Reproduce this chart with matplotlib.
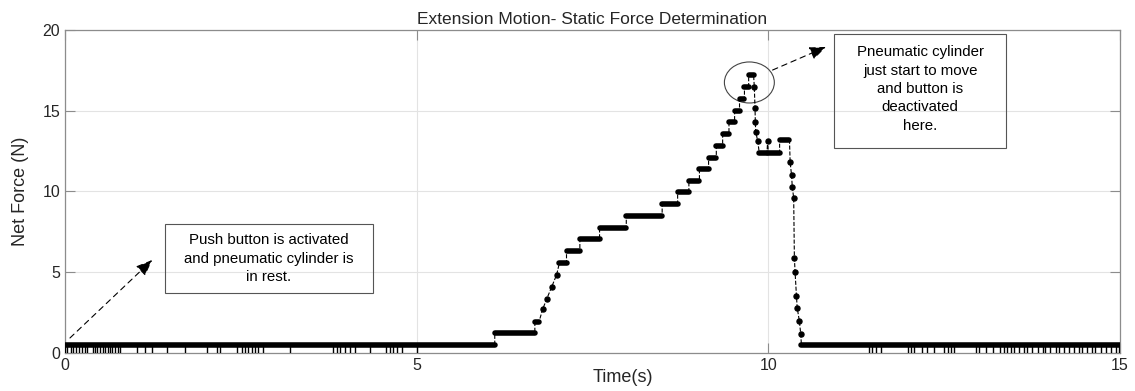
import numpy as np
import matplotlib
matplotlib.use("Agg")
import matplotlib.pyplot as plt
from matplotlib.patches import Ellipse, Rectangle

plt.rcParams['font.family'] = ['Liberation Sans', 'DejaVu Sans']

# plateaus of the force signal: start time, end time, level
plat_t0 = [0.00, 6.11, 6.68, 7.03, 7.13, 7.32, 7.60, 7.98, 8.49, 8.71, 8.87, 9.02,
           9.15, 9.26, 9.35, 9.44, 9.52, 9.59, 9.66, 9.72, 9.87, 10.00, 10.16, 10.47]
plat_t1 = [6.11, 6.68, 6.74, 7.13, 7.32, 7.60, 7.98, 8.49, 8.71, 8.87, 9.02, 9.15,
           9.26, 9.35, 9.44, 9.52, 9.59, 9.66, 9.72, 9.79, 9.98, 10.16, 10.30, 15.00]
plat_v = [0.5, 1.26, 1.94, 5.6, 6.3, 7.04, 7.76, 8.5, 9.2, 9.95, 10.67, 11.4,
          12.1, 12.8, 13.56, 14.3, 15.0, 15.7, 16.5, 17.2, 12.4, 12.4, 13.2, 0.5]

# single samples between plateaus
dot_t = [6.79, 6.85, 6.92, 6.99, 9.80, 9.81, 9.815, 9.82, 9.85, 9.99,
         10.31, 10.33, 10.34, 10.36, 10.37, 10.38, 10.40, 10.41, 10.44, 10.46]
dot_v = [2.7, 3.36, 4.1, 4.85, 16.5, 15.2, 14.3, 13.7, 13.1, 13.1,
         11.8, 11.0, 10.3, 9.6, 5.9, 5.0, 3.5, 2.8, 2.0, 1.2]

# times where the signal drops to zero while at rest
drop_t = [0.00, 0.03, 0.09, 0.11, 0.16, 0.20, 0.24, 0.28, 0.31, 0.40, 0.43, 0.45,
          0.50, 0.54, 0.57, 0.61, 0.64, 0.67, 0.71, 0.75, 0.78, 1.02, 1.14, 1.24,
          1.45, 1.70, 2.02, 2.16, 2.20, 2.44, 2.51, 2.56, 2.60, 2.66, 2.70, 2.74,
          2.81, 3.20, 3.81, 3.86, 3.91, 3.98, 4.05, 4.12, 4.33, 4.57, 4.62, 4.66,
          4.72, 4.79, 5.00,
          11.43, 11.48, 11.53, 11.60, 11.98, 12.03, 12.07, 12.19, 12.26, 12.36,
          12.50, 12.55, 12.59, 12.64, 12.95, 13.00, 13.09, 13.19, 13.30, 13.35,
          13.40, 13.45, 13.49, 13.56, 13.64, 13.68, 13.75, 13.83, 13.90, 13.94,
          14.01, 14.09, 14.13, 14.20, 14.28, 14.35, 14.42, 14.46, 14.53, 14.60,
          14.65, 14.73, 14.80, 14.87, 14.94, 14.99]

txt_col = '#262626'
fig = plt.figure(figsize=(11.35, 3.91), dpi=100)
ax = fig.add_axes([0.0573, 0.0972, 0.9295, 0.8261])

# full signal path: plateaus and single samples in time order
items = [(a, 0, [(a, v), (b, v)]) for a, b, v in zip(plat_t0, plat_t1, plat_v)]
items += [(t, 1, [(t, v)]) for t, v in zip(dot_t, dot_v)]
items.sort(key=lambda it: (it[0], it[1]))
path = [p for it in items for p in it[2]]
ax.plot([p[0] for p in path], [p[1] for p in path], color='k', lw=0.8, ls='--', zorder=3)
ax.plot(dot_t, dot_v, ls='none', marker='o', ms=3.6, color='k', zorder=4)
for a, b, v in zip(plat_t0, plat_t1, plat_v):
    ax.plot([a, b], [v, v], color='k', lw=4.0, solid_capstyle='round', zorder=4)
ax.vlines(drop_t, 0, 0.5, color='k', lw=1.0, zorder=3)

ax.set_xlim(0, 15)
ax.set_ylim(0, 20)
ax.set_xticks([0, 5, 10, 15])
ax.set_yticks([0, 5, 10, 15, 20])
ax.grid(True, color='#e3e3e3', lw=0.8)
ax.set_axisbelow(True)
for s in ax.spines.values():
    s.set_color('#8c8c8c')
    s.set_linewidth(0.9)
ax.tick_params(direction='in', length=7, width=0.8, colors='#8c8c8c',
               labelcolor=txt_col, labelsize=11.5, top=True, right=True)
ax.set_xlabel('Time(s)', fontsize=13, color=txt_col)
ax.xaxis.set_label_coords(0.529, -0.05, transform=ax.transAxes)
ax.xaxis.label.set_va('top')
ax.set_ylabel('Net Force (N)', fontsize=13, color=txt_col, labelpad=10)
ax.set_title('Extension Motion- Static Force Determination', fontsize=12.5,
             color=txt_col, pad=4)

# annotations
arrow = dict(arrowstyle='-|>,head_length=1.0,head_width=0.4',
             color='k', lw=0.8, ls=(0, (5, 4)), shrinkA=0, shrinkB=0)
ax.annotate('', xy=(1.24, 5.76), xytext=(0.07, 0.93), arrowprops=arrow)
ax.add_patch(Rectangle((1.42, 3.72), 2.955, 4.27, fill=False, ec='#555555', lw=0.8))
ax.text(2.9, 5.85, 'Push button is activated\nand pneumatic cylinder is\nin rest.',
        ha='center', va='center', fontsize=10.8, linespacing=1.4, color='k')

ax.add_patch(Ellipse((9.73, 16.75), 0.71, 2.54, fill=False, ec='#444444', lw=0.8))
ax.annotate('', xy=(10.82, 18.95), xytext=(10.06, 17.52), arrowprops=arrow)
ax.add_patch(Rectangle((10.94, 12.69), 2.44, 7.06, fill=False, ec='#555555', lw=0.8))
ax.text(12.16, 16.35, 'Pneumatic cylinder\njust start to move\nand button is\ndeactivated\nhere.',
        ha='center', va='center', fontsize=10.8, linespacing=1.4, color='k')

fig.savefig('out.png', dpi=100)
